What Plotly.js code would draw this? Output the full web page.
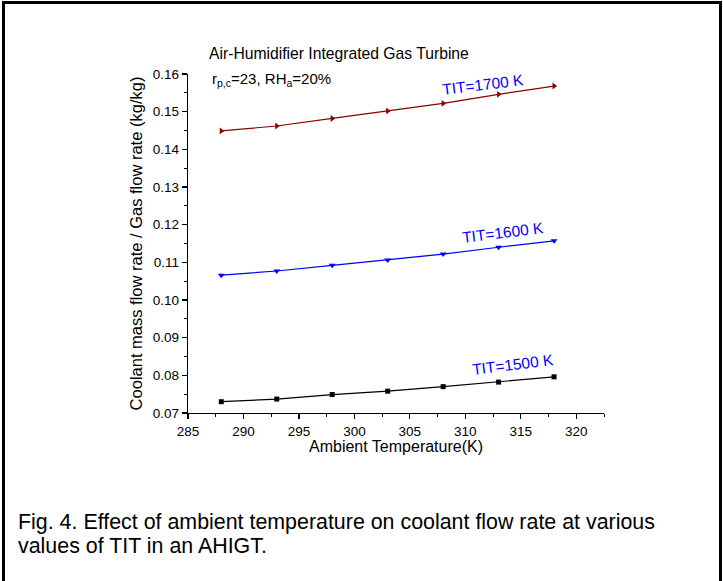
<!DOCTYPE html>
<html>
<head>
<meta charset="utf-8">
<script src="https://cdn.plot.ly/plotly-3.0.1.min.js"></script>
<style>
html,body{margin:0;padding:0;background:#fff;}
#wrap{position:relative;width:723px;height:581px;}
#chart{position:absolute;left:0;top:0;width:723px;height:581px;}
#frame{position:absolute;left:2px;top:1px;width:714px;height:590px;border:3px solid #000;border-bottom:none;pointer-events:none;}
</style>
</head>
<body>
<div id="wrap"><div id="chart"></div><div id="frame"></div></div>
<script>
const ambientT = [288, 293, 298, 303, 308, 313, 318];
const tit1700 = [0.1449, 0.1462, 0.1482, 0.1502, 0.1522, 0.1546, 0.1568];
const tit1600 = [0.1066, 0.1077, 0.1092, 0.1106, 0.1122, 0.1140, 0.1157];
const tit1500 = [0.0730, 0.0737, 0.0749, 0.0758, 0.0770, 0.0782, 0.0796];
const seriesNames = ['TIT=1700 K', 'TIT=1600 K', 'TIT=1500 K'];
const titleText = 'Air-Humidifier Integrated Gas Turbine';
const subtitleText = 'r<sub>p,c</sub>=23, RH<sub>a</sub>=20%';
const xTitle = 'Ambient Temperature(K)';
const yTitle = 'Coolant mass flow rate / Gas flow rate (kg/kg)';
const captionLine1 = 'Fig. 4. Effect of ambient temperature on coolant flow rate at various';
const captionLine2 = 'values of TIT in an AHIGT.';

const F = 'Arial, "Liberation Sans", sans-serif';

const traces = [
  {x: ambientT, y: tit1700, name: seriesNames[0], mode: 'lines+markers',
   line: {color: '#8b0000', width: 1.2}, marker: {symbol: 'triangle-right', size: 6, color: '#8b0000'}},
  {x: ambientT, y: tit1600, name: seriesNames[1], mode: 'lines+markers',
   line: {color: '#0000ff', width: 1.2}, marker: {symbol: 'triangle-down', size: 6, color: '#0000ff'}},
  {x: ambientT, y: tit1500, name: seriesNames[2], mode: 'lines+markers',
   line: {color: '#000000', width: 1.2}, marker: {symbol: 'square', size: 5, color: '#000000'}}
];

const layout = {
  width: 723, height: 581,
  margin: {l: 188, r: 119, t: 74, b: 168},
  paper_bgcolor: '#fff', plot_bgcolor: '#fff',
  showlegend: false,
  font: {family: F, color: '#000', size: 13},
  xaxis: {
    range: [285, 322.5], dtick: 5, tick0: 285,
    showgrid: false, zeroline: false, showline: true, linecolor: '#000', linewidth: 1.3,
    ticks: 'outside', ticklen: 5, tickwidth: 1.2, tickcolor: '#000',
    minor: {dtick: 2.5, ticks: 'outside', ticklen: 3, tickwidth: 1, tickcolor: '#000', showgrid: false},
    tickfont: {family: F, size: 13.5},
    title: {text: xTitle, font: {family: F, size: 16}, standoff: 2}
  },
  yaxis: {
    range: [0.07, 0.16], dtick: 0.01, tick0: 0.07, tickformat: '.2f',
    showgrid: false, zeroline: false, showline: true, linecolor: '#000', linewidth: 1.3,
    ticks: 'outside', ticklen: 5, tickwidth: 1.2, tickcolor: '#000',
    minor: {dtick: 0.005, ticks: 'outside', ticklen: 3, tickwidth: 1, tickcolor: '#000', showgrid: false},
    tickfont: {family: F, size: 13.5},
    title: {text: yTitle, font: {family: F, size: 16.5}, standoff: 6}
  },
  annotations: [
    {xref: 'paper', yref: 'paper', x: 0.046, y: 1.06, xanchor: 'left', yanchor: 'middle',
     text: titleText, showarrow: false, font: {family: F, size: 15.7}},
    {xref: 'paper', yref: 'paper', x: 0.052, y: 0.985, xanchor: 'left', yanchor: 'middle',
     text: subtitleText, showarrow: false, font: {family: F, size: 15}},
    {xref: 'x', yref: 'y', x: 311.6, y: 0.1573, text: seriesNames[0], showarrow: false,
     textangle: -7, font: {family: F, size: 15.5, color: '#0000ff'}},
    {xref: 'x', yref: 'y', x: 313.4, y: 0.1179, text: seriesNames[1], showarrow: false,
     textangle: -7, font: {family: F, size: 15.5, color: '#0000ff'}},
    {xref: 'x', yref: 'y', x: 314.3, y: 0.0828, text: seriesNames[2], showarrow: false,
     textangle: -7, font: {family: F, size: 15.5, color: '#0000ff'}},
    {xref: 'paper', yref: 'paper', x: -0.413, y: -0.322, xanchor: 'left', yanchor: 'middle',
     text: captionLine1, showarrow: false, font: {family: F, size: 21.4}},
    {xref: 'paper', yref: 'paper', x: -0.413, y: -0.393, xanchor: 'left', yanchor: 'middle',
     text: captionLine2, showarrow: false, font: {family: F, size: 21.4}}
  ]
};

Plotly.newPlot('chart', traces, layout, {displayModeBar: false, staticPlot: true});
</script>
</body>
</html>
